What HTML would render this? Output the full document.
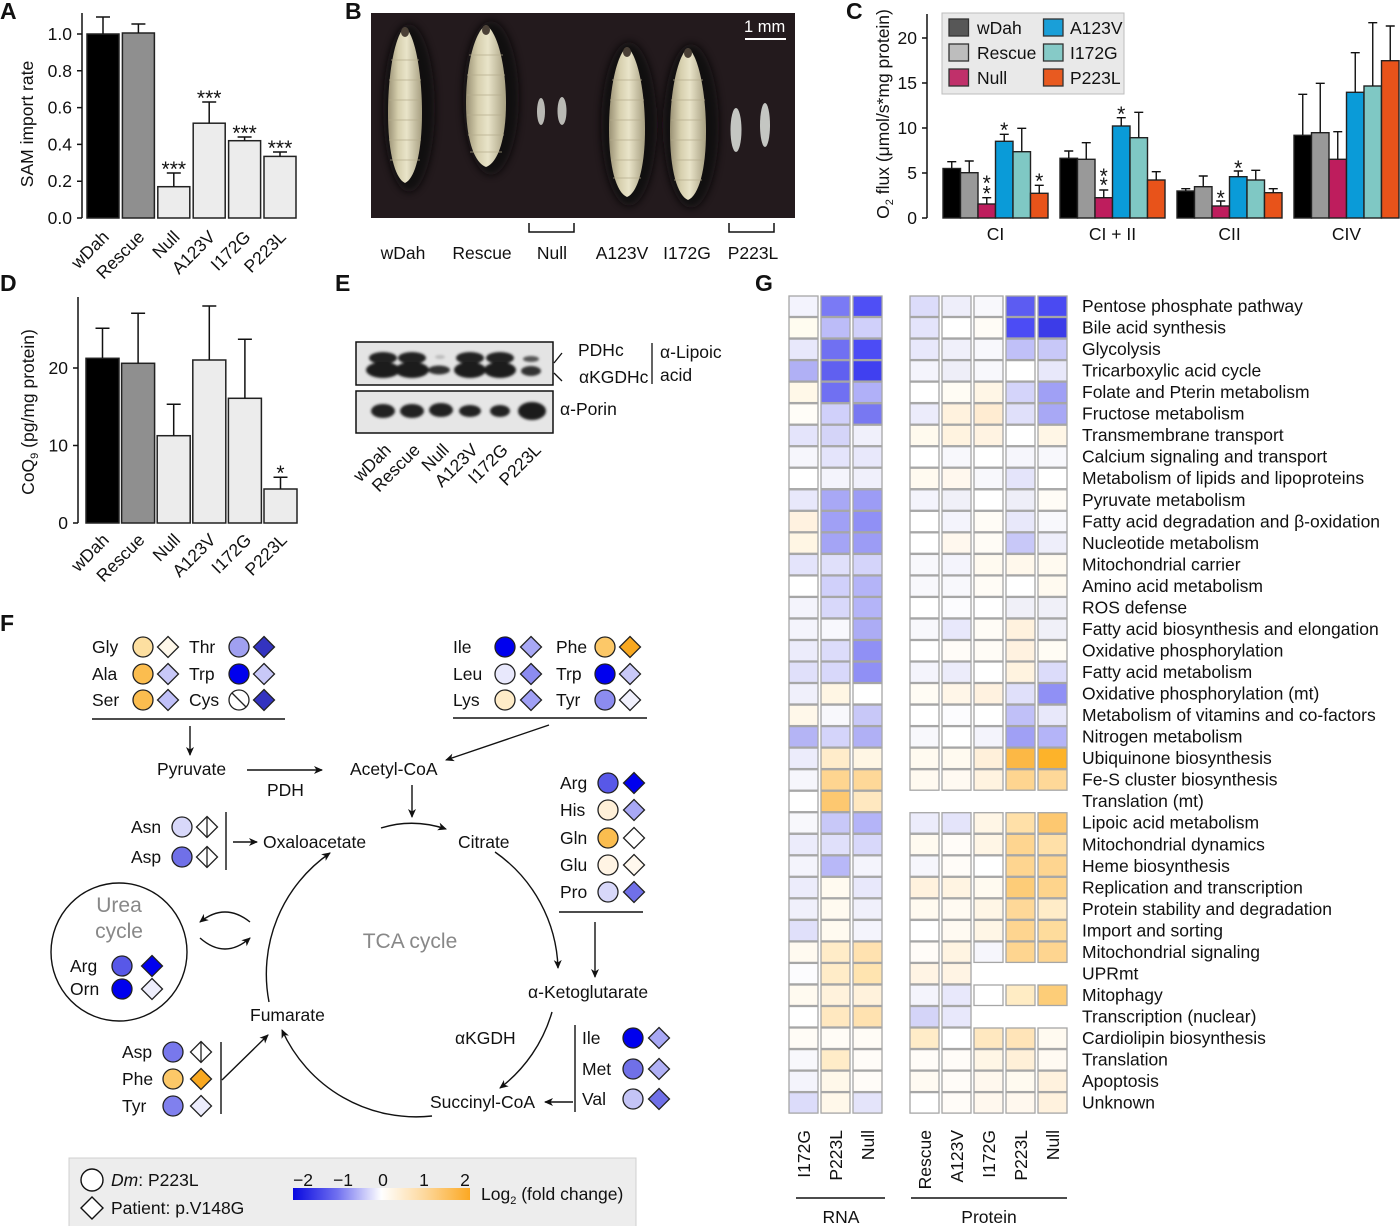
<!DOCTYPE html>
<html><head><meta charset="utf-8"><style>
html,body{margin:0;padding:0;background:#fff}
svg{display:block}
text{font-family:"Liberation Sans",sans-serif;fill:#111}
</style></head><body>
<svg width="1400" height="1226" viewBox="0 0 1400 1226" xmlns="http://www.w3.org/2000/svg" font-size="17.5">
<defs>
<marker id="ar" markerWidth="10" markerHeight="10" refX="8" refY="4" orient="auto" markerUnits="userSpaceOnUse"><path d="M0,0 L9,4 L0,8 L2.5,4 Z" fill="#111"/></marker>
<linearGradient id="lv" x1="0" y1="0" x2="1" y2="0"><stop offset="0" stop-color="#9a9174"/><stop offset="0.3" stop-color="#d6cfae"/><stop offset="0.55" stop-color="#e9e4c9"/><stop offset="1" stop-color="#a69e80"/></linearGradient>
<linearGradient id="cb" x1="0" y1="0" x2="1" y2="0"><stop offset="0" stop-color="#0808e0"/><stop offset="0.25" stop-color="#7070f0"/><stop offset="0.5" stop-color="#ffffff"/><stop offset="0.75" stop-color="#fdd79a"/><stop offset="1" stop-color="#fca822"/></linearGradient>
<filter id="bl"><feGaussianBlur stdDeviation="1.3"/></filter>
<filter id="bl2"><feGaussianBlur stdDeviation="4"/></filter>
</defs>

<!-- Panel letters -->
<g font-weight="bold" font-size="23">
<text x="0" y="19">A</text><text x="345" y="19">B</text><text x="846" y="19">C</text>
<text x="0" y="291">D</text><text x="335" y="291">E</text><text x="755" y="291">G</text>
<text x="0" y="631">F</text>
</g>

<!-- ===== Panel A ===== -->
<g stroke="#111" stroke-width="1.5" fill="none">
<line x1="82" y1="13" x2="82" y2="218"/>
<path d="M77 218H82M77 181.2H82M77 144.4H82M77 107.6H82M77 70.8H82M77 34H82"/>
</g>
<g text-anchor="end">
<text x="72" y="224">0.0</text><text x="72" y="187.2">0.2</text><text x="72" y="150.4">0.4</text>
<text x="72" y="113.6">0.6</text><text x="72" y="76.8">0.8</text><text x="72" y="40">1.0</text>
</g>
<text transform="translate(33,124) rotate(-90)" text-anchor="middle">SAM import rate</text>
<g stroke="#222" stroke-width="1.5">
<rect x="87" y="34" width="32" height="184" fill="#000"/>
<rect x="122.4" y="33" width="32" height="185" fill="#8f8f8f"/>
<rect x="157.8" y="186.7" width="32" height="31.3" fill="#ececec"/>
<rect x="193.2" y="123.2" width="32" height="94.8" fill="#ececec"/>
<rect x="228.6" y="140.7" width="32" height="77.3" fill="#ececec"/>
<rect x="264" y="156.4" width="32" height="61.6" fill="#ececec"/>
</g>
<path stroke="#111" stroke-width="1.5" fill="none" d="M103 34V17M96 17H110M138.4 33V24M131.4 24H145.4M173.8 186.7V173M166.8 173H180.8M209.2 123.2V102M202.2 102H216.2M244.6 140.7V137M237.6 137H251.6M280 156.4V152M273 152H287"/>
<g text-anchor="middle" font-size="21">
<text x="173.8" y="176">***</text><text x="209.2" y="105">***</text><text x="244.6" y="140">***</text><text x="280" y="155">***</text>
</g>
<g text-anchor="end">
<text transform="translate(110,238) rotate(-45)">wDah</text>
<text transform="translate(145.4,238) rotate(-45)">Rescue</text>
<text transform="translate(180.8,238) rotate(-45)">Null</text>
<text transform="translate(216.2,238) rotate(-45)">A123V</text>
<text transform="translate(251.6,238) rotate(-45)">I172G</text>
<text transform="translate(287,238) rotate(-45)">P223L</text>
</g>

<!-- ===== Panel B ===== -->
<rect x="371" y="13" width="424" height="205" fill="#231a1d"/>
<g fill="#0a0708" opacity="0.85" filter="url(#bl2)">
<ellipse cx="409" cy="108" rx="26" ry="84"/>
<ellipse cx="491" cy="98" rx="28" ry="77"/>
<ellipse cx="629" cy="124" rx="28" ry="82"/>
<ellipse cx="691" cy="126" rx="28" ry="82"/>
</g>
<g fill="url(#lv)">
<path d="M405,27 C415.2,34.8 422,73.8 422,112.8 C422,151.8 415.2,178.3 405,183 C394.8,178.3 388,151.8 388,112.8 C388,73.8 394.8,34.8 405,27Z"/>
<path d="M486,25 C498,32.1 506,67.6 506,103.1 C506,138.6 498,162.7 486,167 C474,162.7 466,138.6 466,103.1 C466,67.6 474,32.1 486,25Z"/>
<path d="M627,47 C637.8,54.5 645,92 645,129.5 C645,167 637.8,192.5 627,197 C616.2,192.5 609,167 609,129.5 C609,92 616.2,54.5 627,47Z"/>
<path d="M688,48 C698.8,55.6 706,93.6 706,131.6 C706,169.6 698.8,195.4 688,200 C677.2,195.4 670,169.6 670,131.6 C670,93.6 677.2,55.6 688,48Z"/>
</g>
<g stroke="#b4ab8c" stroke-width="1" fill="none" opacity="0.7">
<path d="M391 60H419M389 80H421M389 100H421M389 120H421M389 140H421M390 160H420"/>
<path d="M469 55H503M467 75H505M467 95H505M467 115H505M468 135H504M470 152H502"/>
<path d="M612 80H642M610 100H644M610 120H644M610 140H644M611 160H643M613 178H641"/>
<path d="M673 80H703M671 100H705M671 120H705M671 140H705M672 160H704M674 180H702"/>
</g>
<g fill="#4a4036"><ellipse cx="405" cy="32" rx="4" ry="5"/><ellipse cx="486" cy="30" rx="4" ry="5"/><ellipse cx="627" cy="52" rx="4" ry="5"/><ellipse cx="688" cy="53" rx="4" ry="5"/></g>
<g fill="#b9b9b4">
<ellipse cx="541" cy="111.5" rx="4" ry="13.5"/><ellipse cx="562" cy="111" rx="4.5" ry="14"/>
</g>
<g fill="#c4c6c2">
<ellipse cx="736" cy="130" rx="5.5" ry="22"/><ellipse cx="765" cy="125" rx="5" ry="22"/>
</g>
<text x="744" y="32" fill="#fff" style="fill:#fff" font-size="16.5">1 mm</text>
<line x1="745" y1="39" x2="786" y2="39" stroke="#fff" stroke-width="2"/>
<path d="M529 223V232H574V223M729 223V232H774V223" stroke="#111" stroke-width="1.5" fill="none"/>
<g text-anchor="middle">
<text x="403" y="259">wDah</text><text x="482" y="259">Rescue</text><text x="552" y="259">Null</text>
<text x="622" y="259">A123V</text><text x="687" y="259">I172G</text><text x="753" y="259">P223L</text>
</g>

<!-- ===== Panel C ===== -->
<g stroke="#111" stroke-width="1.5" fill="none">
<line x1="927" y1="14" x2="927" y2="218"/>
<path d="M922 218H927M922 173H927M922 128H927M922 83H927M922 38H927"/>
</g>
<g text-anchor="end">
<text x="917" y="224">0</text><text x="917" y="179">5</text><text x="917" y="134">10</text><text x="917" y="89">15</text><text x="917" y="44">20</text>
</g>
<text transform="translate(889,114) rotate(-90)" text-anchor="middle">O<tspan font-size="11" dy="4">2</tspan><tspan dy="-4"> flux (μmol/s*mg protein)</tspan></text>
<g stroke="#222" stroke-width="1.4">
<rect x="943" y="168.5" width="17.5" height="49.5" fill="#000"/>
<rect x="960.5" y="172.7" width="17.5" height="45.3" fill="#999"/>
<rect x="978" y="204" width="17.5" height="14" fill="#be1d5d"/>
<rect x="995.5" y="141.3" width="17.5" height="76.7" fill="#0a9bd8"/>
<rect x="1013" y="151.7" width="17.5" height="66.3" fill="#7fc8c4"/>
<rect x="1030.5" y="193.3" width="17.5" height="24.7" fill="#e8531a"/>

<rect x="1060" y="158.3" width="17.5" height="59.7" fill="#000"/>
<rect x="1077.5" y="159.3" width="17.5" height="58.7" fill="#999"/>
<rect x="1095" y="197.7" width="17.5" height="20.3" fill="#be1d5d"/>
<rect x="1112.5" y="126" width="17.5" height="92" fill="#0a9bd8"/>
<rect x="1130" y="137.7" width="17.5" height="80.3" fill="#7fc8c4"/>
<rect x="1147.5" y="180" width="17.5" height="38" fill="#e8531a"/>

<rect x="1177" y="191" width="17.5" height="27" fill="#000"/>
<rect x="1194.5" y="186.7" width="17.5" height="31.3" fill="#999"/>
<rect x="1212" y="206" width="17.5" height="12" fill="#be1d5d"/>
<rect x="1229.5" y="176.7" width="17.5" height="41.3" fill="#0a9bd8"/>
<rect x="1247" y="180" width="17.5" height="38" fill="#7fc8c4"/>
<rect x="1264.5" y="192.7" width="17.5" height="25.3" fill="#e8531a"/>

<rect x="1294" y="135.3" width="17.5" height="82.7" fill="#000"/>
<rect x="1311.5" y="132.7" width="17.5" height="85.3" fill="#999"/>
<rect x="1329" y="159.3" width="17.5" height="58.7" fill="#be1d5d"/>
<rect x="1346.5" y="92.3" width="17.5" height="125.7" fill="#0a9bd8"/>
<rect x="1364" y="86" width="17.5" height="132" fill="#7fc8c4"/>
<rect x="1381.5" y="60.7" width="17.5" height="157.3" fill="#e8531a"/>
</g>
<path stroke="#111" stroke-width="1.4" fill="none" d="
M951.75 168.5V161.7M947.25 161.7h9
M969.25 172.7V161M964.75 161h9
M986.75 204V197.7M982.25 197.7h9
M1004.25 141.3V134.3M999.75 134.3h9
M1021.75 151.7V128.3M1017.25 128.3h9
M1039.25 193.3V185.3M1034.75 185.3h9
M1068.75 158.3V151M1064.25 151h9
M1086.25 159.3V142.7M1081.75 142.7h9
M1103.75 197.7V190M1099.25 190h9
M1121.25 126V117.7M1116.75 117.7h9
M1138.75 137.7V112.3M1134.25 112.3h9
M1156.25 180V171.7M1151.75 171.7h9
M1185.75 191V188.7M1181.25 188.7h9
M1203.25 186.7V176M1198.75 176h9
M1220.75 206V201M1216.25 201h9
M1238.25 176.7V171M1233.75 171h9
M1255.75 180V170.3M1251.25 170.3h9
M1273.25 192.7V188.7M1268.75 188.7h9
M1302.75 135.3V94.3M1298.25 94.3h9
M1320.25 132.7V83.3M1315.75 83.3h9
M1337.75 159.3V131.7M1333.25 131.7h9
M1355.25 92.3V52.7M1350.75 52.7h9
M1372.75 86V22.7M1368.25 22.7h9
M1390.25 60.7V26M1385.75 26h9"/>
<g text-anchor="middle" font-size="21">
<text x="986.75" y="189.8">*</text><text x="986.75" y="200.3">*</text>
<text x="1004.25" y="136.8">*</text><text x="1039.25" y="187.8">*</text>
<text x="1103.75" y="182.8">*</text><text x="1103.75" y="192">*</text>
<text x="1121.25" y="120.8">*</text>
<text x="1220.75" y="204.8">*</text><text x="1238.25" y="174.8">*</text>
</g>
<g text-anchor="middle">
<text x="995.5" y="240">CI</text><text x="1112.5" y="240">CI + II</text><text x="1229.5" y="240">CII</text><text x="1346.5" y="240">CIV</text>
</g>
<rect x="942" y="13" width="182" height="81" fill="#e9e9e9" stroke="#bdbdbd" stroke-width="1"/>
<g stroke="#333" stroke-width="1.3">
<rect x="949" y="19" width="19.5" height="17" fill="#575757"/>
<rect x="949" y="44" width="19.5" height="17" fill="#bdbdbd"/>
<rect x="949" y="69" width="19.5" height="17" fill="#c0306a"/>
<rect x="1043.5" y="19" width="19.5" height="17" fill="#1a9fd8"/>
<rect x="1043.5" y="44" width="19.5" height="17" fill="#86cac7"/>
<rect x="1043.5" y="69" width="19.5" height="17" fill="#e85a20"/>
</g>
<text x="977" y="34">wDah</text><text x="977" y="59">Rescue</text><text x="977" y="84">Null</text>
<text x="1070" y="34">A123V</text><text x="1070" y="59">I172G</text><text x="1070" y="84">P223L</text>

<!-- ===== Panel D ===== -->
<g stroke="#111" stroke-width="1.5" fill="none">
<line x1="78" y1="297" x2="78" y2="523"/>
<path d="M73 523H78M73 445.5H78M73 368H78"/>
</g>
<g text-anchor="end"><text x="68" y="529">0</text><text x="68" y="451.5">10</text><text x="68" y="374">20</text></g>
<text transform="translate(34,412) rotate(-90)" text-anchor="middle">CoQ<tspan font-size="11" dy="4">9</tspan><tspan dy="-4"> (pg/mg protein)</tspan></text>
<g stroke="#222" stroke-width="1.5">
<rect x="86" y="358.3" width="33" height="164.7" fill="#000"/>
<rect x="121.6" y="363.3" width="33" height="159.7" fill="#8f8f8f"/>
<rect x="157.2" y="435.7" width="33" height="87.3" fill="#ececec"/>
<rect x="192.8" y="360" width="33" height="163" fill="#ececec"/>
<rect x="228.4" y="398.3" width="33" height="124.7" fill="#ececec"/>
<rect x="264" y="489" width="33" height="34" fill="#ececec"/>
</g>
<path stroke="#111" stroke-width="1.5" fill="none" d="M102.5 358.3V328.3M95.5 328.3h14M138.1 363.3V313.3M131.1 313.3h14M173.7 435.7V404.3M166.7 404.3h14M209.3 360V306M202.3 306h14M244.9 398.3V339.3M237.9 339.3h14M280.5 489V477.3M273.5 477.3h14"/>
<text x="280.5" y="480" text-anchor="middle" font-size="21">*</text>
<g text-anchor="end">
<text transform="translate(110,541) rotate(-45)">wDah</text>
<text transform="translate(145.6,541) rotate(-45)">Rescue</text>
<text transform="translate(181.2,541) rotate(-45)">Null</text>
<text transform="translate(216.8,541) rotate(-45)">A123V</text>
<text transform="translate(252.4,541) rotate(-45)">I172G</text>
<text transform="translate(288,541) rotate(-45)">P223L</text>
</g>

<!-- ===== Panel E ===== -->
<rect x="356" y="342" width="197" height="43" fill="#e4e4e4" stroke="#111" stroke-width="1.5"/>
<rect x="356" y="391" width="197" height="42" fill="#e6e6e6" stroke="#111" stroke-width="1.5"/>
<g filter="url(#bl)">
<ellipse cx="383" cy="358" rx="14" ry="6" fill="#222"/><ellipse cx="383" cy="370" rx="17" ry="8" fill="#1a1a1a"/>
<ellipse cx="412" cy="358" rx="14" ry="6" fill="#222"/><ellipse cx="412" cy="370" rx="17" ry="8" fill="#1a1a1a"/>
<ellipse cx="440" cy="357" rx="5" ry="2" fill="#bbb"/><ellipse cx="439" cy="370" rx="11" ry="4.5" fill="#333"/>
<ellipse cx="470" cy="358" rx="14" ry="6" fill="#222"/><ellipse cx="470" cy="370" rx="16" ry="8" fill="#1a1a1a"/>
<ellipse cx="500" cy="358" rx="14" ry="6" fill="#222"/><ellipse cx="500" cy="370" rx="16" ry="8" fill="#1a1a1a"/>
<ellipse cx="531" cy="359" rx="8" ry="3" fill="#555"/><ellipse cx="531" cy="371" rx="10" ry="5" fill="#333"/>
<ellipse cx="383" cy="411" rx="12" ry="7" fill="#222"/><ellipse cx="412" cy="411" rx="12" ry="7" fill="#222"/>
<ellipse cx="441" cy="410" rx="12" ry="7" fill="#222"/><ellipse cx="470" cy="411" rx="11" ry="6" fill="#222"/>
<ellipse cx="500" cy="411" rx="10" ry="6" fill="#222"/><ellipse cx="532" cy="411" rx="14" ry="9" fill="#1a1a1a"/>
</g>
<path d="M554 363L562 353M554 373L562 381M652 343V384" stroke="#111" stroke-width="1.3" fill="none"/>
<text x="578" y="356">PDHc</text><text x="579" y="383">αKGDHc</text>
<text x="660" y="358">α-Lipoic</text><text x="660" y="381">acid</text>
<text x="560" y="415">α-Porin</text>
<g text-anchor="end">
<text transform="translate(392,451) rotate(-45)">wDah</text>
<text transform="translate(421,451) rotate(-45)">Rescue</text>
<text transform="translate(450,451) rotate(-45)">Null</text>
<text transform="translate(479,451) rotate(-45)">A123V</text>
<text transform="translate(509,451) rotate(-45)">I172G</text>
<text transform="translate(542,451) rotate(-45)">P223L</text>
</g>

<!-- ===== Panel F ===== -->
<g stroke="#111" stroke-width="1.4" fill="none">
<path d="M92 719H285M453 718H647M559 912H643"/>
<path d="M190 726V755" marker-end="url(#ar)"/>
<path d="M549 725L446 760" marker-end="url(#ar)"/>
<path d="M247 770H322" marker-end="url(#ar)"/>
<path d="M412 785V817" marker-end="url(#ar)"/>
<path d="M381 828Q413 818 446 829" marker-end="url(#ar)"/>
<path d="M226 812V870M221 1042V1114M575 1025V1112"/>
<path d="M233 842H257" marker-end="url(#ar)"/>
<path d="M595 922V977" marker-end="url(#ar)"/>
<path d="M573 1102H545" marker-end="url(#ar)"/>
<path d="M222 1080L268 1035" marker-end="url(#ar)"/>
<path d="M269 1002A147 147 0 0 1 330 853" marker-end="url(#ar)"/>
<path d="M495 852A147 147 0 0 1 558 968" marker-end="url(#ar)"/>
<path d="M552 1012A147 147 0 0 1 500 1088" marker-end="url(#ar)"/>
<path d="M432 1116A147 147 0 0 1 282 1030" marker-end="url(#ar)"/>
<path d="M250 922Q225 902 200 922" marker-end="url(#ar)"/>
<path d="M200 938Q225 960 250 938" marker-end="url(#ar)"/>
<ellipse cx="119" cy="952" rx="68" ry="69"/>
</g>
<text x="92" y="653">Gly</text><text x="189" y="653">Thr</text>
<text x="92" y="680">Ala</text><text x="189" y="680">Trp</text>
<text x="92" y="706">Ser</text><text x="189" y="706">Cys</text>
<text x="453" y="653">Ile</text><text x="556" y="653">Phe</text>
<text x="453" y="680">Leu</text><text x="556" y="680">Trp</text>
<text x="453" y="706">Lys</text><text x="556" y="706">Tyr</text>
<text x="157" y="775">Pyruvate</text><text x="267" y="796">PDH</text><text x="350" y="775">Acetyl-CoA</text>
<text x="131" y="833">Asn</text><text x="131" y="863">Asp</text>
<text x="263" y="848">Oxaloacetate</text><text x="458" y="848">Citrate</text>
<text x="560" y="789">Arg</text><text x="560" y="816">His</text><text x="560" y="844">Gln</text><text x="560" y="871">Glu</text><text x="560" y="898">Pro</text>
<text x="119" y="912" text-anchor="middle" font-size="21" style="fill:#888">Urea</text>
<text x="119" y="938" text-anchor="middle" font-size="21" style="fill:#888">cycle</text>
<text x="70" y="972">Arg</text><text x="70" y="995">Orn</text>
<text x="410" y="948" text-anchor="middle" font-size="21" style="fill:#888">TCA cycle</text>
<text x="528" y="998">α-Ketoglutarate</text><text x="250" y="1021">Fumarate</text>
<text x="455" y="1044">αKGDH</text><text x="430" y="1108">Succinyl-CoA</text>
<text x="582" y="1044">Ile</text><text x="582" y="1075">Met</text><text x="582" y="1105">Val</text>
<text x="122" y="1058">Asp</text><text x="122" y="1085">Phe</text><text x="122" y="1112">Tyr</text>

<g stroke="#222" stroke-width="1.3">
<circle cx="143" cy="647" r="10" fill="#fddfa0"/><path d="M168 636.5l10.5 10.5-10.5 10.5-10.5-10.5z" fill="#fff8ea"/>
<circle cx="239" cy="647" r="10" fill="#a0a0f0"/><path d="M264 636.5l10.5 10.5-10.5 10.5-10.5-10.5z" fill="#3333c0"/>
<circle cx="143" cy="674" r="10" fill="#fbbd4f"/><path d="M168 663.5l10.5 10.5-10.5 10.5-10.5-10.5z" fill="#c8c8f8"/>
<circle cx="239" cy="674" r="10" fill="#0000ee"/><path d="M264 663.5l10.5 10.5-10.5 10.5-10.5-10.5z" fill="#c8c8f8"/>
<circle cx="143" cy="700" r="10" fill="#fbbd4f"/><path d="M168 689.5l10.5 10.5-10.5 10.5-10.5-10.5z" fill="#c0c0f8"/>
<circle cx="239" cy="700" r="10" fill="#fff"/><path d="M232 693L246 707" fill="none"/><path d="M264 689.5l10.5 10.5-10.5 10.5-10.5-10.5z" fill="#3333c0"/>

<circle cx="505" cy="647" r="10" fill="#0000ee"/><path d="M531 636.5l10.5 10.5-10.5 10.5-10.5-10.5z" fill="#a8a8f5"/>
<circle cx="605" cy="647" r="10" fill="#fcc868"/><path d="M630 636.5l10.5 10.5-10.5 10.5-10.5-10.5z" fill="#f8a820"/>
<circle cx="505" cy="674" r="10" fill="#e8e8fc"/><path d="M531 663.5l10.5 10.5-10.5 10.5-10.5-10.5z" fill="#8c8cf0"/>
<circle cx="605" cy="674" r="10" fill="#0000ee"/><path d="M630 663.5l10.5 10.5-10.5 10.5-10.5-10.5z" fill="#c8c8f8"/>
<circle cx="505" cy="700" r="10" fill="#ffecc8"/><path d="M531 689.5l10.5 10.5-10.5 10.5-10.5-10.5z" fill="#a0a0f5"/>
<circle cx="605" cy="700" r="10" fill="#8c8cf0"/><path d="M630 689.5l10.5 10.5-10.5 10.5-10.5-10.5z" fill="#f0f0fc"/>

<circle cx="182" cy="827" r="10" fill="#d8d8fa"/><path d="M207 816.5l10.5 10.5-10.5 10.5-10.5-10.5zM207 816.5V837.5" fill="#fff"/>
<circle cx="182" cy="857" r="10" fill="#7070e8"/><path d="M207 846.5l10.5 10.5-10.5 10.5-10.5-10.5zM207 846.5V867.5" fill="#fff"/>

<circle cx="608" cy="783" r="10" fill="#5858e8"/><path d="M634 772.5l10.5 10.5-10.5 10.5-10.5-10.5z" fill="#0000ee"/>
<circle cx="608" cy="810" r="10" fill="#fff0d8"/><path d="M634 799.5l10.5 10.5-10.5 10.5-10.5-10.5z" fill="#a8a8f5"/>
<circle cx="608" cy="838" r="10" fill="#fbbd4f"/><path d="M634 827.5l10.5 10.5-10.5 10.5-10.5-10.5z" fill="#fff"/>
<circle cx="608" cy="865" r="10" fill="#fff4e4"/><path d="M634 854.5l10.5 10.5-10.5 10.5-10.5-10.5z" fill="#fff8ee"/>
<circle cx="608" cy="892" r="10" fill="#d8d8fa"/><path d="M634 881.5l10.5 10.5-10.5 10.5-10.5-10.5z" fill="#7070e8"/>

<circle cx="122" cy="966" r="10" fill="#5858e8"/><path d="M152 955.5l10.5 10.5-10.5 10.5-10.5-10.5z" fill="#0000ee"/>
<circle cx="122" cy="989" r="10" fill="#0000ee"/><path d="M152 978.5l10.5 10.5-10.5 10.5-10.5-10.5z" fill="#eeeefc"/>

<circle cx="633" cy="1038" r="10" fill="#0000ee"/><path d="M659 1027.5l10.5 10.5-10.5 10.5-10.5-10.5z" fill="#a8a8f5"/>
<circle cx="633" cy="1069" r="10" fill="#7070e8"/><path d="M659 1058.5l10.5 10.5-10.5 10.5-10.5-10.5z" fill="#b0b0f5"/>
<circle cx="633" cy="1099" r="10" fill="#c4c4f6"/><path d="M659 1088.5l10.5 10.5-10.5 10.5-10.5-10.5z" fill="#7070e8"/>

<circle cx="173" cy="1052" r="10" fill="#7878ec"/><path d="M201 1041.5l10.5 10.5-10.5 10.5-10.5-10.5zM201 1041.5V1062.5" fill="#fff"/>
<circle cx="173" cy="1079" r="10" fill="#fcc868"/><path d="M201 1068.5l10.5 10.5-10.5 10.5-10.5-10.5z" fill="#f8a820"/>
<circle cx="173" cy="1106" r="10" fill="#8080ee"/><path d="M201 1095.5l10.5 10.5-10.5 10.5-10.5-10.5z" fill="#ececfc"/>
</g>

<!-- F legend -->
<rect x="69" y="1158" width="567" height="70" fill="#ededed" stroke="#d0d0d0" stroke-width="1"/>
<circle cx="92" cy="1180" r="11" fill="#fff" stroke="#111" stroke-width="1.4"/>
<path d="M92 1197l11 11-11 11-11-11z" fill="#fff" stroke="#111" stroke-width="1.4"/>
<text x="111" y="1186"><tspan font-style="italic">Dm</tspan>: P223L</text>
<text x="111" y="1214">Patient: p.V148G</text>
<rect x="293" y="1188" width="177" height="12" fill="url(#cb)"/>
<g text-anchor="middle">
<text x="303" y="1186">−2</text><text x="343" y="1186">−1</text><text x="383" y="1186">0</text><text x="424" y="1186">1</text><text x="465" y="1186">2</text>
</g>
<text x="481" y="1200">Log<tspan font-size="11" dy="4">2</tspan><tspan dy="-4"> (fold change)</tspan></text>

<!-- ===== Panel G heatmap ===== -->
<g stroke="#a6a6a6" stroke-width="1.3">
<g transform="translate(0,296)"><rect x="789" width="29" height="20.5" fill="#f3f3fd"/><rect x="821" width="29" height="20.5" fill="#7a7af5"/><rect x="853" width="29" height="20.5" fill="#4f4ff5"/><rect x="910" width="29" height="20.5" fill="#dcdcfa"/><rect x="942" width="29" height="20.5" fill="#eeeefa"/><rect x="974" width="29" height="20.5" fill="#f8f8fc"/><rect x="1006" width="29" height="20.5" fill="#5c5cf2"/><rect x="1038" width="29" height="20.5" fill="#4a4af2"/></g>
<g transform="translate(0,317.5)"><rect x="789" width="29" height="20.5" fill="#fffcf0"/><rect x="821" width="29" height="20.5" fill="#bcbcf8"/><rect x="853" width="29" height="20.5" fill="#d0d0fa"/><rect x="910" width="29" height="20.5" fill="#e4e4fb"/><rect x="942" width="29" height="20.5" fill="#ffffff"/><rect x="974" width="29" height="20.5" fill="#fffcf6"/><rect x="1006" width="29" height="20.5" fill="#4c4cf5"/><rect x="1038" width="29" height="20.5" fill="#3c3ce8"/></g>
<g transform="translate(0,339.1)"><rect x="789" width="29" height="20.5" fill="#e8e8fb"/><rect x="821" width="29" height="20.5" fill="#7070f2"/><rect x="853" width="29" height="20.5" fill="#4c4cf5"/><rect x="910" width="29" height="20.5" fill="#e8e8fb"/><rect x="942" width="29" height="20.5" fill="#f0f0fa"/><rect x="974" width="29" height="20.5" fill="#f8f8fc"/><rect x="1006" width="29" height="20.5" fill="#c0c0f8"/><rect x="1038" width="29" height="20.5" fill="#c8c8f8"/></g>
<g transform="translate(0,360.6)"><rect x="789" width="29" height="20.5" fill="#b0b0f5"/><rect x="821" width="29" height="20.5" fill="#6060f0"/><rect x="853" width="29" height="20.5" fill="#4040f0"/><rect x="910" width="29" height="20.5" fill="#f4f4fc"/><rect x="942" width="29" height="20.5" fill="#eeeef8"/><rect x="974" width="29" height="20.5" fill="#f8f8fc"/><rect x="1006" width="29" height="20.5" fill="#ffffff"/><rect x="1038" width="29" height="20.5" fill="#e8e8fa"/></g>
<g transform="translate(0,382.1)"><rect x="789" width="29" height="20.5" fill="#fff8e8"/><rect x="821" width="29" height="20.5" fill="#7070f2"/><rect x="853" width="29" height="20.5" fill="#b0b0f8"/><rect x="910" width="29" height="20.5" fill="#ffffff"/><rect x="942" width="29" height="20.5" fill="#fffcf4"/><rect x="974" width="29" height="20.5" fill="#fff6e6"/><rect x="1006" width="29" height="20.5" fill="#d4d4fa"/><rect x="1038" width="29" height="20.5" fill="#a0a0f5"/></g>
<g transform="translate(0,403.7)"><rect x="789" width="29" height="20.5" fill="#fffdf8"/><rect x="821" width="29" height="20.5" fill="#d0d0fa"/><rect x="853" width="29" height="20.5" fill="#7878f2"/><rect x="910" width="29" height="20.5" fill="#ececfb"/><rect x="942" width="29" height="20.5" fill="#fff2de"/><rect x="974" width="29" height="20.5" fill="#ffecd2"/><rect x="1006" width="29" height="20.5" fill="#e0e0fa"/><rect x="1038" width="29" height="20.5" fill="#a8a8f5"/></g>
<g transform="translate(0,425.2)"><rect x="789" width="29" height="20.5" fill="#e4e4fb"/><rect x="821" width="29" height="20.5" fill="#d4d4f8"/><rect x="853" width="29" height="20.5" fill="#f0f0fb"/><rect x="910" width="29" height="20.5" fill="#fffaee"/><rect x="942" width="29" height="20.5" fill="#fff3e0"/><rect x="974" width="29" height="20.5" fill="#fff3e2"/><rect x="1006" width="29" height="20.5" fill="#ffffff"/><rect x="1038" width="29" height="20.5" fill="#fff6e6"/></g>
<g transform="translate(0,446.7)"><rect x="789" width="29" height="20.5" fill="#f6f6fc"/><rect x="821" width="29" height="20.5" fill="#e4e4fb"/><rect x="853" width="29" height="20.5" fill="#e8e8fb"/><rect x="910" width="29" height="20.5" fill="#ffffff"/><rect x="942" width="29" height="20.5" fill="#f8f8fc"/><rect x="974" width="29" height="20.5" fill="#ffffff"/><rect x="1006" width="29" height="20.5" fill="#f6f6fc"/><rect x="1038" width="29" height="20.5" fill="#f8f8fc"/></g>
<g transform="translate(0,468.2)"><rect x="789" width="29" height="20.5" fill="#ffffff"/><rect x="821" width="29" height="20.5" fill="#f4f4fc"/><rect x="853" width="29" height="20.5" fill="#f0f0fb"/><rect x="910" width="29" height="20.5" fill="#fffaf0"/><rect x="942" width="29" height="20.5" fill="#fff8ee"/><rect x="974" width="29" height="20.5" fill="#f8f8fc"/><rect x="1006" width="29" height="20.5" fill="#e4e4fa"/><rect x="1038" width="29" height="20.5" fill="#ffffff"/></g>
<g transform="translate(0,489.8)"><rect x="789" width="29" height="20.5" fill="#e8e8fb"/><rect x="821" width="29" height="20.5" fill="#a8a8f5"/><rect x="853" width="29" height="20.5" fill="#9c9cf5"/><rect x="910" width="29" height="20.5" fill="#f4f4fc"/><rect x="942" width="29" height="20.5" fill="#f0f0f8"/><rect x="974" width="29" height="20.5" fill="#ffffff"/><rect x="1006" width="29" height="20.5" fill="#eeeef8"/><rect x="1038" width="29" height="20.5" fill="#fffcf6"/></g>
<g transform="translate(0,511.3)"><rect x="789" width="29" height="20.5" fill="#fff2e0"/><rect x="821" width="29" height="20.5" fill="#a0a0f5"/><rect x="853" width="29" height="20.5" fill="#9090f5"/><rect x="910" width="29" height="20.5" fill="#ffffff"/><rect x="942" width="29" height="20.5" fill="#f4f4fc"/><rect x="974" width="29" height="20.5" fill="#fffcf6"/><rect x="1006" width="29" height="20.5" fill="#e8e8fa"/><rect x="1038" width="29" height="20.5" fill="#f8f8fc"/></g>
<g transform="translate(0,532.8)"><rect x="789" width="29" height="20.5" fill="#fff6e4"/><rect x="821" width="29" height="20.5" fill="#a4a4f5"/><rect x="853" width="29" height="20.5" fill="#9c9cf5"/><rect x="910" width="29" height="20.5" fill="#ffffff"/><rect x="942" width="29" height="20.5" fill="#fff8ee"/><rect x="974" width="29" height="20.5" fill="#fffcf6"/><rect x="1006" width="29" height="20.5" fill="#c8c8f8"/><rect x="1038" width="29" height="20.5" fill="#eeeefa"/></g>
<g transform="translate(0,554.4)"><rect x="789" width="29" height="20.5" fill="#e4e4fb"/><rect x="821" width="29" height="20.5" fill="#e0e0fa"/><rect x="853" width="29" height="20.5" fill="#d4d4fa"/><rect x="910" width="29" height="20.5" fill="#f8f8fc"/><rect x="942" width="29" height="20.5" fill="#f4f4fc"/><rect x="974" width="29" height="20.5" fill="#fffaf0"/><rect x="1006" width="29" height="20.5" fill="#fff8ec"/><rect x="1038" width="29" height="20.5" fill="#fffaf0"/></g>
<g transform="translate(0,575.9)"><rect x="789" width="29" height="20.5" fill="#ffffff"/><rect x="821" width="29" height="20.5" fill="#d0d0fa"/><rect x="853" width="29" height="20.5" fill="#b4b4f8"/><rect x="910" width="29" height="20.5" fill="#f8f8fc"/><rect x="942" width="29" height="20.5" fill="#f8f8fc"/><rect x="974" width="29" height="20.5" fill="#fffcf6"/><rect x="1006" width="29" height="20.5" fill="#ffffff"/><rect x="1038" width="29" height="20.5" fill="#fffaf0"/></g>
<g transform="translate(0,597.4)"><rect x="789" width="29" height="20.5" fill="#f4f4fc"/><rect x="821" width="29" height="20.5" fill="#d8d8fa"/><rect x="853" width="29" height="20.5" fill="#b4b4f8"/><rect x="910" width="29" height="20.5" fill="#ffffff"/><rect x="942" width="29" height="20.5" fill="#fcfcfe"/><rect x="974" width="29" height="20.5" fill="#ffffff"/><rect x="1006" width="29" height="20.5" fill="#f0f0f8"/><rect x="1038" width="29" height="20.5" fill="#f0f0f8"/></g>
<g transform="translate(0,619)"><rect x="789" width="29" height="20.5" fill="#f4f4fc"/><rect x="821" width="29" height="20.5" fill="#f8f8fd"/><rect x="853" width="29" height="20.5" fill="#acacf5"/><rect x="910" width="29" height="20.5" fill="#f8f8fc"/><rect x="942" width="29" height="20.5" fill="#e8e8fb"/><rect x="974" width="29" height="20.5" fill="#fffcf6"/><rect x="1006" width="29" height="20.5" fill="#fff2de"/><rect x="1038" width="29" height="20.5" fill="#f0f0f8"/></g>
<g transform="translate(0,640.5)"><rect x="789" width="29" height="20.5" fill="#ececfb"/><rect x="821" width="29" height="20.5" fill="#dcdcfa"/><rect x="853" width="29" height="20.5" fill="#9090f5"/><rect x="910" width="29" height="20.5" fill="#ffffff"/><rect x="942" width="29" height="20.5" fill="#fffcf8"/><rect x="974" width="29" height="20.5" fill="#fffcf6"/><rect x="1006" width="29" height="20.5" fill="#fff2e0"/><rect x="1038" width="29" height="20.5" fill="#fffcf4"/></g>
<g transform="translate(0,662)"><rect x="789" width="29" height="20.5" fill="#e0e0fa"/><rect x="821" width="29" height="20.5" fill="#d8d8fa"/><rect x="853" width="29" height="20.5" fill="#9090f5"/><rect x="910" width="29" height="20.5" fill="#f4f4fc"/><rect x="942" width="29" height="20.5" fill="#ececfa"/><rect x="974" width="29" height="20.5" fill="#ffffff"/><rect x="1006" width="29" height="20.5" fill="#fff3e0"/><rect x="1038" width="29" height="20.5" fill="#dcdcfa"/></g>
<g transform="translate(0,683.5)"><rect x="789" width="29" height="20.5" fill="#f0f0fb"/><rect x="821" width="29" height="20.5" fill="#fff6e4"/><rect x="853" width="29" height="20.5" fill="#ffffff"/><rect x="910" width="29" height="20.5" fill="#fffcf4"/><rect x="942" width="29" height="20.5" fill="#fff6e8"/><rect x="974" width="29" height="20.5" fill="#fff2e0"/><rect x="1006" width="29" height="20.5" fill="#e0e0fa"/><rect x="1038" width="29" height="20.5" fill="#9090f5"/></g>
<g transform="translate(0,705.1)"><rect x="789" width="29" height="20.5" fill="#fff8ea"/><rect x="821" width="29" height="20.5" fill="#f8f8fc"/><rect x="853" width="29" height="20.5" fill="#c8c8f8"/><rect x="910" width="29" height="20.5" fill="#ffffff"/><rect x="942" width="29" height="20.5" fill="#fcfcfe"/><rect x="974" width="29" height="20.5" fill="#ffffff"/><rect x="1006" width="29" height="20.5" fill="#c0c0f8"/><rect x="1038" width="29" height="20.5" fill="#e8e8fa"/></g>
<g transform="translate(0,726.6)"><rect x="789" width="29" height="20.5" fill="#b4b4f5"/><rect x="821" width="29" height="20.5" fill="#d4d4fa"/><rect x="853" width="29" height="20.5" fill="#b0b0f5"/><rect x="910" width="29" height="20.5" fill="#f8f8fc"/><rect x="942" width="29" height="20.5" fill="#ffffff"/><rect x="974" width="29" height="20.5" fill="#f4f4fc"/><rect x="1006" width="29" height="20.5" fill="#a0a0f5"/><rect x="1038" width="29" height="20.5" fill="#b4b4f8"/></g>
<g transform="translate(0,748.1)"><rect x="789" width="29" height="20.5" fill="#ececfb"/><rect x="821" width="29" height="20.5" fill="#ffecca"/><rect x="853" width="29" height="20.5" fill="#fff6e4"/><rect x="910" width="29" height="20.5" fill="#fffaf0"/><rect x="942" width="29" height="20.5" fill="#fffaf0"/><rect x="974" width="29" height="20.5" fill="#fff0da"/><rect x="1006" width="29" height="20.5" fill="#fcb845"/><rect x="1038" width="29" height="20.5" fill="#fdb32a"/></g>
<g transform="translate(0,769.7)"><rect x="789" width="29" height="20.5" fill="#f6f6fc"/><rect x="821" width="29" height="20.5" fill="#fed590"/><rect x="853" width="29" height="20.5" fill="#fed898"/><rect x="910" width="29" height="20.5" fill="#fffaf0"/><rect x="942" width="29" height="20.5" fill="#fffaf2"/><rect x="974" width="29" height="20.5" fill="#fff3e0"/><rect x="1006" width="29" height="20.5" fill="#fed590"/><rect x="1038" width="29" height="20.5" fill="#fed898"/></g>
<g transform="translate(0,791.2)"><rect x="789" width="29" height="20.5" fill="#ffffff"/><rect x="821" width="29" height="20.5" fill="#fdc870"/><rect x="853" width="29" height="20.5" fill="#ffe8c0"/></g>
<g transform="translate(0,812.7)"><rect x="789" width="29" height="20.5" fill="#f8f8fc"/><rect x="821" width="29" height="20.5" fill="#c8c8f8"/><rect x="853" width="29" height="20.5" fill="#b4b4f8"/><rect x="910" width="29" height="20.5" fill="#ececfb"/><rect x="942" width="29" height="20.5" fill="#e4e4fa"/><rect x="974" width="29" height="20.5" fill="#fff6e6"/><rect x="1006" width="29" height="20.5" fill="#ffe0a8"/><rect x="1038" width="29" height="20.5" fill="#fdc870"/></g>
<g transform="translate(0,834.3)"><rect x="789" width="29" height="20.5" fill="#ececfb"/><rect x="821" width="29" height="20.5" fill="#e0e0fa"/><rect x="853" width="29" height="20.5" fill="#d8d8fa"/><rect x="910" width="29" height="20.5" fill="#fffaf0"/><rect x="942" width="29" height="20.5" fill="#fffcf8"/><rect x="974" width="29" height="20.5" fill="#fff6e6"/><rect x="1006" width="29" height="20.5" fill="#fed590"/><rect x="1038" width="29" height="20.5" fill="#ffe0a8"/></g>
<g transform="translate(0,855.8)"><rect x="789" width="29" height="20.5" fill="#f4f4fc"/><rect x="821" width="29" height="20.5" fill="#b8b8f8"/><rect x="853" width="29" height="20.5" fill="#f4f4fc"/><rect x="910" width="29" height="20.5" fill="#f6f6fc"/><rect x="942" width="29" height="20.5" fill="#fffcf8"/><rect x="974" width="29" height="20.5" fill="#ffffff"/><rect x="1006" width="29" height="20.5" fill="#fed590"/><rect x="1038" width="29" height="20.5" fill="#fed590"/></g>
<g transform="translate(0,877.3)"><rect x="789" width="29" height="20.5" fill="#ececfb"/><rect x="821" width="29" height="20.5" fill="#fffaf0"/><rect x="853" width="29" height="20.5" fill="#e8e8fb"/><rect x="910" width="29" height="20.5" fill="#fff2de"/><rect x="942" width="29" height="20.5" fill="#fff4e2"/><rect x="974" width="29" height="20.5" fill="#fffaf0"/><rect x="1006" width="29" height="20.5" fill="#fdcc78"/><rect x="1038" width="29" height="20.5" fill="#fed48c"/></g>
<g transform="translate(0,898.8)"><rect x="789" width="29" height="20.5" fill="#f0f0fb"/><rect x="821" width="29" height="20.5" fill="#fffaf0"/><rect x="853" width="29" height="20.5" fill="#f0f0fb"/><rect x="910" width="29" height="20.5" fill="#fffaf0"/><rect x="942" width="29" height="20.5" fill="#fffaf2"/><rect x="974" width="29" height="20.5" fill="#fff6e6"/><rect x="1006" width="29" height="20.5" fill="#fed898"/><rect x="1038" width="29" height="20.5" fill="#ffecc8"/></g>
<g transform="translate(0,920.4)"><rect x="789" width="29" height="20.5" fill="#e0e0fa"/><rect x="821" width="29" height="20.5" fill="#fffaf0"/><rect x="853" width="29" height="20.5" fill="#f4f4fc"/><rect x="910" width="29" height="20.5" fill="#ffffff"/><rect x="942" width="29" height="20.5" fill="#fffaf2"/><rect x="974" width="29" height="20.5" fill="#fff6e6"/><rect x="1006" width="29" height="20.5" fill="#fed590"/><rect x="1038" width="29" height="20.5" fill="#fedc9c"/></g>
<g transform="translate(0,941.9)"><rect x="789" width="29" height="20.5" fill="#fffaf0"/><rect x="821" width="29" height="20.5" fill="#ffecc8"/><rect x="853" width="29" height="20.5" fill="#ffe2b0"/><rect x="910" width="29" height="20.5" fill="#fffcf8"/><rect x="942" width="29" height="20.5" fill="#fff4e2"/><rect x="974" width="29" height="20.5" fill="#f6f6fc"/><rect x="1006" width="29" height="20.5" fill="#fed590"/><rect x="1038" width="29" height="20.5" fill="#fed590"/></g>
<g transform="translate(0,963.4)"><rect x="789" width="29" height="20.5" fill="#fcfcfe"/><rect x="821" width="29" height="20.5" fill="#ffecc8"/><rect x="853" width="29" height="20.5" fill="#ffe4b0"/><rect x="910" width="29" height="20.5" fill="#fff4e4"/><rect x="942" width="29" height="20.5" fill="#fff4e4"/></g>
<g transform="translate(0,985)"><rect x="789" width="29" height="20.5" fill="#fffaf0"/><rect x="821" width="29" height="20.5" fill="#fff2dc"/><rect x="853" width="29" height="20.5" fill="#fff2dc"/><rect x="910" width="29" height="20.5" fill="#f4f4fc"/><rect x="942" width="29" height="20.5" fill="#e8e8fb"/><rect x="974" width="29" height="20.5" fill="#ffffff"/><rect x="1006" width="29" height="20.5" fill="#ffecc4"/><rect x="1038" width="29" height="20.5" fill="#fdcd78"/></g>
<g transform="translate(0,1006.5)"><rect x="789" width="29" height="20.5" fill="#ffffff"/><rect x="821" width="29" height="20.5" fill="#ffe8c0"/><rect x="853" width="29" height="20.5" fill="#ffe2b0"/><rect x="910" width="29" height="20.5" fill="#d4d4f8"/><rect x="942" width="29" height="20.5" fill="#e8e8fb"/></g>
<g transform="translate(0,1028)"><rect x="789" width="29" height="20.5" fill="#fffcf6"/><rect x="821" width="29" height="20.5" fill="#fffcf6"/><rect x="853" width="29" height="20.5" fill="#fffcf6"/><rect x="910" width="29" height="20.5" fill="#ffecc8"/><rect x="942" width="29" height="20.5" fill="#ffffff"/><rect x="974" width="29" height="20.5" fill="#ffe8c0"/><rect x="1006" width="29" height="20.5" fill="#ffe4b8"/><rect x="1038" width="29" height="20.5" fill="#fffaf0"/></g>
<g transform="translate(0,1049.6)"><rect x="789" width="29" height="20.5" fill="#f8f8fc"/><rect x="821" width="29" height="20.5" fill="#ffecc8"/><rect x="853" width="29" height="20.5" fill="#fffcf8"/><rect x="910" width="29" height="20.5" fill="#fffcf8"/><rect x="942" width="29" height="20.5" fill="#fffcf8"/><rect x="974" width="29" height="20.5" fill="#fff6e6"/><rect x="1006" width="29" height="20.5" fill="#fff0d8"/><rect x="1038" width="29" height="20.5" fill="#fffaf2"/></g>
<g transform="translate(0,1071.1)"><rect x="789" width="29" height="20.5" fill="#f4f4fc"/><rect x="821" width="29" height="20.5" fill="#fff8ea"/><rect x="853" width="29" height="20.5" fill="#fffcf8"/><rect x="910" width="29" height="20.5" fill="#fffaf2"/><rect x="942" width="29" height="20.5" fill="#fffcf8"/><rect x="974" width="29" height="20.5" fill="#fff8ee"/><rect x="1006" width="29" height="20.5" fill="#fffaf0"/><rect x="1038" width="29" height="20.5" fill="#fff2de"/></g>
<g transform="translate(0,1092.6)"><rect x="789" width="29" height="20.5" fill="#dcdcfa"/><rect x="821" width="29" height="20.5" fill="#fff8ea"/><rect x="853" width="29" height="20.5" fill="#e4e4fa"/><rect x="910" width="29" height="20.5" fill="#ffffff"/><rect x="942" width="29" height="20.5" fill="#fffcf8"/><rect x="974" width="29" height="20.5" fill="#fff8ee"/><rect x="1006" width="29" height="20.5" fill="#fff8ee"/><rect x="1038" width="29" height="20.5" fill="#fff2de"/></g>
</g>

<g>
<text x="1082" y="312">Pentose phosphate pathway</text>
<text x="1082" y="333.5">Bile acid synthesis</text>
<text x="1082" y="355.1">Glycolysis</text>
<text x="1082" y="376.6">Tricarboxylic acid cycle</text>
<text x="1082" y="398.1">Folate and Pterin metabolism</text>
<text x="1082" y="419.7">Fructose metabolism</text>
<text x="1082" y="441.2">Transmembrane transport</text>
<text x="1082" y="462.7">Calcium signaling and transport</text>
<text x="1082" y="484.2">Metabolism of lipids and lipoproteins</text>
<text x="1082" y="505.8">Pyruvate metabolism</text>
<text x="1082" y="527.3">Fatty acid degradation and β-oxidation</text>
<text x="1082" y="548.8">Nucleotide metabolism</text>
<text x="1082" y="570.4">Mitochondrial carrier</text>
<text x="1082" y="591.9">Amino acid metabolism</text>
<text x="1082" y="613.4">ROS defense</text>
<text x="1082" y="635">Fatty acid biosynthesis and elongation</text>
<text x="1082" y="656.5">Oxidative phosphorylation</text>
<text x="1082" y="678">Fatty acid metabolism</text>
<text x="1082" y="699.5">Oxidative phosphorylation (mt)</text>
<text x="1082" y="721.1">Metabolism of vitamins and co-factors</text>
<text x="1082" y="742.6">Nitrogen metabolism</text>
<text x="1082" y="764.1">Ubiquinone biosynthesis</text>
<text x="1082" y="785.7">Fe-S cluster biosynthesis</text>
<text x="1082" y="807.2">Translation (mt)</text>
<text x="1082" y="828.7">Lipoic acid metabolism</text>
<text x="1082" y="850.3">Mitochondrial dynamics</text>
<text x="1082" y="871.8">Heme biosynthesis</text>
<text x="1082" y="893.3">Replication and transcription</text>
<text x="1082" y="914.8">Protein stability and degradation</text>
<text x="1082" y="936.4">Import and sorting</text>
<text x="1082" y="957.9">Mitochondrial signaling</text>
<text x="1082" y="979.4">UPRmt</text>
<text x="1082" y="1001">Mitophagy</text>
<text x="1082" y="1022.5">Transcription (nuclear)</text>
<text x="1082" y="1044">Cardiolipin biosynthesis</text>
<text x="1082" y="1065.6">Translation</text>
<text x="1082" y="1087.1">Apoptosis</text>
<text x="1082" y="1108.6">Unknown</text>
</g>

<g text-anchor="end">
<text transform="translate(810,1130) rotate(-90)">I172G</text>
<text transform="translate(842,1130) rotate(-90)">P223L</text>
<text transform="translate(874,1130) rotate(-90)">Null</text>
<text transform="translate(931,1130) rotate(-90)">Rescue</text>
<text transform="translate(963,1130) rotate(-90)">A123V</text>
<text transform="translate(995,1130) rotate(-90)">I172G</text>
<text transform="translate(1027,1130) rotate(-90)">P223L</text>
<text transform="translate(1059,1130) rotate(-90)">Null</text>
</g>
<path d="M796 1198H885M911 1198H1067" stroke="#111" stroke-width="1.5"/>
<text x="841" y="1223" text-anchor="middle">RNA</text>
<text x="989" y="1223" text-anchor="middle">Protein</text>
</svg>
</body></html>
